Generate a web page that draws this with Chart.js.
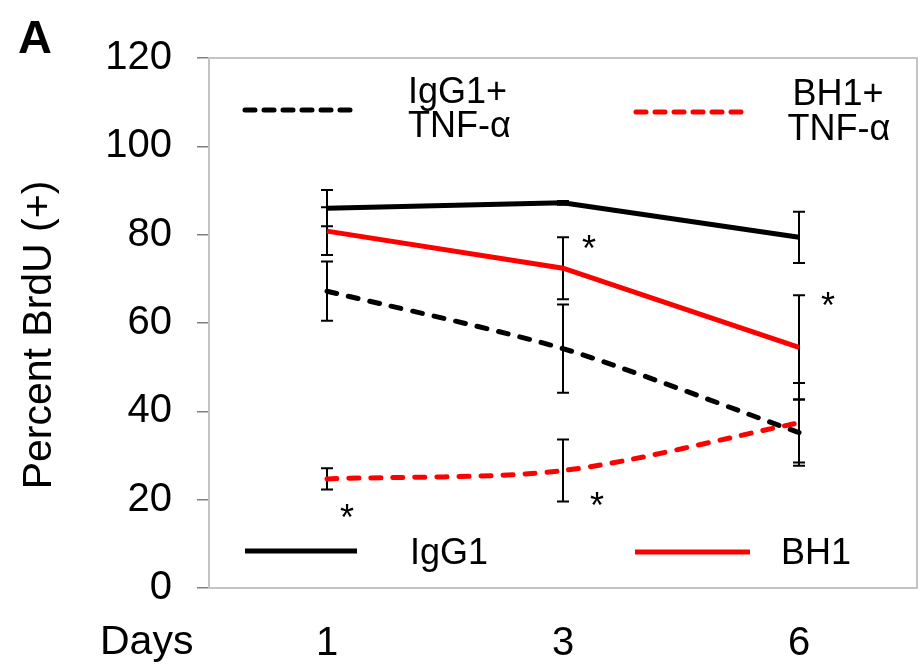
<!DOCTYPE html>
<html>
<head>
<meta charset="utf-8">
<script src="https://cdn.jsdelivr.net/npm/chart.js@4/dist/chart.umd.min.js"></script>
<style>
  html, body { margin: 0; padding: 0; background: #fff; }
  #wrap { width: 921px; height: 668px; position: relative; }
</style>
</head>
<body>
<div id="wrap"><canvas id="brduChart" width="921" height="668"></canvas></div>
<script>
// data
const days = ['1', '3', '6'];
const igg1 = [86.0, 87.2, 79.4];
const igg1Err = [4.1, 0.4, 5.8];
const bh1 = [80.8, 72.4, 54.5];
const bh1Err = [5.4, 7.0, 11.8];
const igg1Tnf = [67.2, 54.2, 35.2];
const igg1TnfErr = [6.7, 10.0, 7.5];
const bh1Tnf = [24.7, 26.6, 37.4];
const bh1TnfErr = [2.4, 7.0, 9.0];
// significance marks: day index, value, x offset
const stars = [
  { i: 0, v: 18.0, dx: 20 },
  { i: 1, v: 78.7, dx: 26 },
  { i: 1, v: 20.5, dx: 34 },
  { i: 2, v: 66.0, dx: 29 }
];

const FONT = '"Liberation Sans", Arial, sans-serif';
const RED = '#ff0000';

const errorBarPlugin = {
  id: 'errorBars',
  beforeDatasetsDraw: (chart) => {
    const { ctx, chartArea, scales } = chart;
    // plot box
    ctx.save();
    ctx.strokeStyle = '#c4c4c4';
    ctx.lineWidth = 2;
    ctx.strokeRect(chartArea.left, chartArea.top, chartArea.right - chartArea.left, chartArea.bottom - chartArea.top);
    ctx.restore();

    ctx.save();
    ctx.strokeStyle = '#000';
    ctx.lineWidth = 2;
    chart.data.datasets.forEach((ds, i) => {
      const meta = chart.getDatasetMeta(i);
      meta.data.forEach((pt, j) => {
        const v = ds.data[j], e = ds.errors[j];
        const top = scales.y.getPixelForValue(v + e);
        const bot = scales.y.getPixelForValue(v - e);
        ctx.beginPath();
        ctx.moveTo(pt.x, top); ctx.lineTo(pt.x, bot);
        ctx.moveTo(pt.x - 6, top); ctx.lineTo(pt.x + 6, top);
        ctx.moveTo(pt.x - 6, bot); ctx.lineTo(pt.x + 6, bot);
        ctx.stroke();
      });
    });
    ctx.restore();
  }
};

const labelsPlugin = {
  id: 'customLabels',
  afterDraw: (chart) => {
    const { ctx, scales } = chart;
    ctx.save();
    ctx.fillStyle = '#000';

    // panel letter
    ctx.font = 'bold 47px ' + FONT;
    ctx.textAlign = 'left';
    ctx.textBaseline = 'alphabetic';
    ctx.fillText('A', 18, 53);

    // "Days" in front of x ticks
    ctx.font = '41px ' + FONT;
    ctx.fillText('Days', 100, 654);

    // y title
    ctx.save();
    ctx.translate(51, 335);
    ctx.rotate(-Math.PI / 2);
    ctx.textAlign = 'center';
    ctx.font = '41px ' + FONT;
    ctx.fillText('Percent BrdU (+)', 0, 0);
    ctx.restore();

    // asterisks
    ctx.font = '36px ' + FONT;
    ctx.textAlign = 'center';
    stars.forEach(s => {
      const x = scales.x.getPixelForValue(s.i) + s.dx;
      const y = scales.y.getPixelForValue(s.v);
      ctx.fillText('*', x, y + 21);
    });

    // legend samples
    const sample = (x1, x2, y, color, dashed) => {
      ctx.save();
      ctx.strokeStyle = color;
      ctx.lineWidth = 5;
      if (dashed) { ctx.setLineDash([10, 9]); ctx.lineCap = 'round'; }
      ctx.beginPath();
      ctx.moveTo(x1, y); ctx.lineTo(x2, y);
      ctx.stroke();
      ctx.restore();
    };
    sample(245, 355, 110, '#000', true);
    sample(636, 746, 112, RED, true);
    sample(245, 357, 551, '#000', false);
    sample(635, 750, 552, RED, false);

    ctx.font = '36px ' + FONT;
    ctx.textAlign = 'left';
    ctx.fillText('IgG1+', 408, 103);
    ctx.fillText('TNF-\u03b1', 408, 137);
    ctx.fillText('IgG1', 410, 564);
    ctx.fillText('BH1', 781, 564);
    ctx.textAlign = 'center';
    ctx.fillText('BH1+', 838, 105);
    ctx.fillText('TNF-\u03b1', 839, 140);
    ctx.restore();
  }
};

const ctx = document.getElementById('brduChart').getContext('2d');
const brduChart = new Chart(ctx, {
  type: 'line',
  data: {
    labels: days,
    datasets: [
      {
        label: 'IgG1',
        data: igg1,
        errors: igg1Err,
        borderColor: '#000',
        borderWidth: 5,
        tension: 0
      },
      {
        label: 'BH1',
        data: bh1,
        errors: bh1Err,
        borderColor: RED,
        borderWidth: 5,
        tension: 0
      },
      {
        label: 'IgG1+ TNF-\u03b1',
        data: igg1Tnf,
        errors: igg1TnfErr,
        borderColor: '#000',
        borderWidth: 5,
        borderDash: [10, 12],
        borderCapStyle: 'round',
        tension: 0.25
      },
      {
        label: 'BH1+ TNF-\u03b1',
        data: bh1Tnf,
        errors: bh1TnfErr,
        borderColor: RED,
        borderWidth: 5,
        borderDash: [10, 12],
        borderCapStyle: 'round',
        tension: 0.3
      }
    ]
  },
  options: {
    responsive: false,
    animation: false,
    events: [],
    elements: { point: { radius: 0 } },
    layout: { padding: { top: 58, right: 4, left: 0, bottom: 0 } },
    scales: {
      x: {
        offset: true,
        grid: { display: false },
        border: { display: false },
        afterFit: (scale) => { scale.height = 80; },
        ticks: {
          color: '#000',
          padding: 24,
          font: { size: 40, family: FONT }
        }
      },
      y: {
        min: 0,
        max: 120,
        afterFit: (scale) => { scale.width = 209; },
        grid: {
          drawOnChartArea: false,
          color: '#808080',
          lineWidth: 1.5,
          tickLength: 12
        },
        border: { color: '#808080', width: 1.5 },
        ticks: {
          stepSize: 20,
          color: '#000',
          padding: 25,
          font: { size: 40, family: FONT }
        }
      }
    },
    plugins: {
      legend: { display: false },
      tooltip: { enabled: false }
    }
  },
  plugins: [errorBarPlugin, labelsPlugin]
});
</script>
</body>
</html>
